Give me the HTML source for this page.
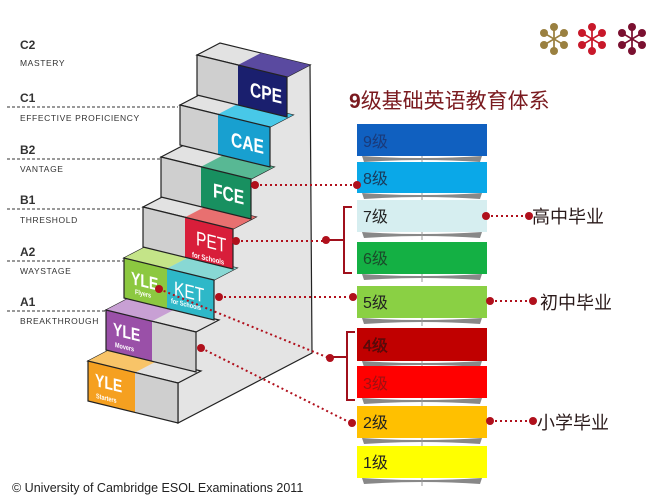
<!DOCTYPE html>
<html><head><meta charset="utf-8"><style>
html,body{margin:0;padding:0;background:#fff;}
svg{display:block;}
text{font-family:"Liberation Sans","Noto Sans CJK SC",sans-serif;}
</style></head><body>
<svg id="s" width="650" height="497" viewBox="0 0 650 497" xmlns="http://www.w3.org/2000/svg">
<g id="stairs"></g>
<g font-family="Liberation Sans, sans-serif" fill="#333">
<text x="20" y="49" font-size="12" font-weight="bold">C2</text>
<text x="20" y="66" font-size="8.5" letter-spacing="0.6">MASTERY</text>
<text x="20" y="102" font-size="12" font-weight="bold">C1</text>
<text x="20" y="121" font-size="8.5" letter-spacing="0.6">EFFECTIVE PROFICIENCY</text>
<text x="20" y="154" font-size="12" font-weight="bold">B2</text>
<text x="20" y="172" font-size="8.5" letter-spacing="0.6">VANTAGE</text>
<text x="20" y="204" font-size="12" font-weight="bold">B1</text>
<text x="20" y="223" font-size="8.5" letter-spacing="0.6">THRESHOLD</text>
<text x="20" y="256" font-size="12" font-weight="bold">A2</text>
<text x="20" y="274" font-size="8.5" letter-spacing="0.6">WAYSTAGE</text>
<text x="20" y="306" font-size="12" font-weight="bold">A1</text>
<text x="20" y="324" font-size="8.5" letter-spacing="0.6">BREAKTHROUGH</text>
</g>
<g stroke="#333" stroke-width="1" stroke-dasharray="3,2">
<line x1="7" y1="107" x2="178" y2="107"/>
<line x1="7" y1="159" x2="160" y2="159"/>
<line x1="7" y1="209" x2="142" y2="209"/>
<line x1="7" y1="261" x2="124" y2="261"/>
<line x1="7" y1="311" x2="106" y2="311"/>
</g>
<g id="labels" fill="#fff" font-weight="bold" font-family="Liberation Sans, sans-serif">
<text transform="translate(250,96) skewY(13.7) scale(0.78,1)" font-size="20">CPE</text>
<text transform="translate(231,146) skewY(13.7) scale(0.78,1)" font-size="20">CAE</text>
<text transform="translate(213,197) skewY(13.7) scale(0.78,1)" font-size="20">FCE</text>
<text transform="translate(196,245) skewY(13.7) scale(0.78,1)" font-size="20" font-weight="normal">PET</text>
<text transform="translate(192,257) skewY(13.7) scale(0.78,1)" font-size="7.5">for Schools</text>
<text transform="translate(131,284) skewY(13.7) scale(0.78,1)" font-size="18">YLE</text>
<text transform="translate(135,294) skewY(13.7) scale(0.78,1)" font-size="7">Flyers</text>
<text transform="translate(174,295) skewY(13.7) scale(0.78,1)" font-size="20" font-weight="normal">KET</text>
<text transform="translate(171,303) skewY(13.7) scale(0.78,1)" font-size="7">for Schools</text>
<text transform="translate(113,335) skewY(13.7) scale(0.78,1)" font-size="18">YLE</text>
<text transform="translate(115,347) skewY(13.7) scale(0.78,1)" font-size="7">Movers</text>
<text transform="translate(95,386) skewY(13.7) scale(0.78,1)" font-size="18">YLE</text>
<text transform="translate(96,398) skewY(13.7) scale(0.78,1)" font-size="7">Starters</text>
</g>
<g id="ast"></g>
<text x="349" y="108" font-size="21" fill="#7a1a1f" font-family="Liberation Sans, Noto Sans CJK SC, sans-serif"><tspan font-weight="bold">9</tspan>级基础英语教育体系</text>
<g id="bars"></g>
<g font-size="16" font-family="Liberation Sans, Noto Sans CJK SC, sans-serif">
<text x="363" y="147" fill="#1a3a7a">9级</text>
<text x="363" y="184" fill="#1a3a5a">8级</text>
<text x="363" y="222" fill="#222">7级</text>
<text x="363" y="264" fill="#1a4a2a">6级</text>
<text x="363" y="308" fill="#222">5级</text>
<text x="363" y="351" fill="#5a1010" stroke="#3a0000" stroke-width="0.3">4级</text>
<text x="363" y="389" fill="#a01010">3级</text>
<text x="363" y="428" fill="#222">2级</text>
<text x="363" y="468" fill="#222">1级</text>
</g>
<g stroke="#b0101c" stroke-width="2" stroke-dasharray="2,3" fill="none">
<line x1="255" y1="185" x2="356" y2="185"/>
<line x1="236" y1="241" x2="326" y2="241"/>
<line x1="219" y1="297" x2="352" y2="297"/>
<line x1="159" y1="289" x2="329" y2="358"/>
<line x1="201" y1="348" x2="351" y2="423"/>
<line x1="486" y1="216" x2="529" y2="216"/>
<line x1="490" y1="301" x2="533" y2="301"/>
<line x1="490" y1="421" x2="533" y2="421"/>
</g>
<g stroke="#a0101c" stroke-width="2" fill="none">
<path d="M352 207 H344 V273 H352"/>
<path d="M326 240 H344"/>
<path d="M355 332 H347 V400 H355"/>
<path d="M331 357 H347"/>
</g>
<g fill="#b0101c">
<circle cx="255" cy="185" r="4"/><circle cx="357" cy="185" r="4"/>
<circle cx="236" cy="241" r="4"/><circle cx="326" cy="240" r="4"/>
<circle cx="219" cy="297" r="4"/><circle cx="353" cy="297" r="4"/>
<circle cx="159" cy="289" r="4"/><circle cx="330" cy="358" r="4"/>
<circle cx="201" cy="348" r="4"/><circle cx="352" cy="423" r="4"/>
<circle cx="486" cy="216" r="4"/><circle cx="529" cy="216" r="4"/>
<circle cx="490" cy="301" r="4"/><circle cx="533" cy="301" r="4"/>
<circle cx="490" cy="421" r="4"/><circle cx="533" cy="421" r="4"/>
</g>
<g font-size="18" fill="#2a1a1a" font-family="Liberation Sans, Noto Sans CJK SC, sans-serif">
<text x="532" y="223">高中毕业</text>
<text x="540" y="309">初中毕业</text>
<text x="537" y="429">小学毕业</text>
</g>
<text x="12" y="492" font-size="12.5" fill="#222">© University of Cambridge ESOL Examinations 2011</text>
</svg>
<script>
var NS="http://www.w3.org/2000/svg";
function el(p,t,a){var e=document.createElementNS(NS,t);for(var k in a)e.setAttribute(k,a[k]);p.appendChild(e);return e;}
var st=document.getElementById("stairs");
function pts(a){return a.map(function(p){return p[0].toFixed(1)+","+p[1].toFixed(1)}).join(" ");}
el(st,"polygon",{points:pts([[287,75],[310,65],[312,353],[178,423],[178,382]]),fill:"#e4e4e4",stroke:"#222","stroke-width":1.2});
var S=[[197,55,[[238,90,"#1a1f6e","#5a4aa0"]]],[180,105,[[218,90,"#18a0d0","#48c8e8"]]],[161,157,[[201,90,"#189060","#58b894"]]],[143,207,[[185,90,"#d81e3a","#e87070"]]],
[124,258,[[124,167,"#8cc840","#c4e488"],[167,214,"#2eb8c8","#88d8d4"]]],[106,310,[[106,152,"#9a50a8","#c8a0d4"]]],[88,361,[[88,135,"#f5a020","#f8c468"]]]];
var k=22/90,dx=23,dy=-12;
function yy(L,T,x){return T+(x-L)*k;}
S.forEach(function(s){var L=s[0],T=s[1],R=L+90;
el(st,"polygon",{points:pts([[L,T],[L+dx,T+dy],[R+dx,yy(L,T,R)+dy],[R,yy(L,T,R)]]),fill:"#e2e2e2",stroke:"#222","stroke-width":1.2});
s[2].forEach(function(c){var x1=c[0],x2=c[1]==90?R:c[1];
el(st,"polygon",{points:pts([[x1,yy(L,T,x1)],[x1+dx,yy(L,T,x1)+dy],[x2+dx,yy(L,T,x2)+dy],[x2,yy(L,T,x2)]]),fill:c[3]});});
});
S.forEach(function(s){var L=s[0],T=s[1],R=L+90,H=40;
el(st,"polygon",{points:pts([[L,T],[R,yy(L,T,R)],[R,yy(L,T,R)+H],[L,T+H]]),fill:"#cfcfcf"});
s[2].forEach(function(c){var x1=c[0],x2=c[1]==90?R:c[1];
el(st,"polygon",{points:pts([[x1,yy(L,T,x1)],[x2,yy(L,T,x2)],[x2,yy(L,T,x2)+H],[x1,yy(L,T,x1)+H]]),fill:c[2]});});
el(st,"polygon",{points:pts([[L,T],[R,yy(L,T,R)],[R,yy(L,T,R)+H],[L,T+H]]),fill:"none",stroke:"#222","stroke-width":1.2});
});
var B=document.getElementById("bars");
var bars=[[124,156,"#1060c0"],[162,193,"#0aa8e8"],[200,232,"#d6eef0"],[242,274,"#14b044"],[286,318,"#8ad044"],[328,361,"#c00000"],[366,398,"#ff0000"],[406,438,"#ffc000"],[446,478,"#ffff00"]];
bars.forEach(function(b){
el(B,"path",{d:"M362 "+b[1]+" Q422 "+(b[1]+4)+" 482 "+b[1]+" L480 "+(b[1]+6)+" Q422 "+(b[1]+2)+" 364 "+(b[1]+6)+" Z",fill:"#888"});
el(B,"line",{x1:422,y1:b[1],x2:422,y2:b[1]+8,stroke:"#999","stroke-width":1});
el(B,"rect",{x:357,y:b[0],width:130,height:b[1]-b[0],fill:b[2]});
});
var A=document.getElementById("ast");
[[554,39,"#9a8040"],[592,39,"#c8182a"],[632,39,"#7a1030"]].forEach(function(a){
var d=[[0,-12],[0,12],[-10,-6],[10,-6],[-10,6],[10,6]];
d.forEach(function(p){el(A,"line",{x1:a[0]-p[0],y1:a[1]-p[1],x2:a[0]+p[0],y2:a[1]+p[1],stroke:a[2],"stroke-width":1.5});});
d.forEach(function(p){el(A,"circle",{cx:a[0]+p[0],cy:a[1]+p[1],r:4,fill:a[2]});});
});
</script>
</body></html>
